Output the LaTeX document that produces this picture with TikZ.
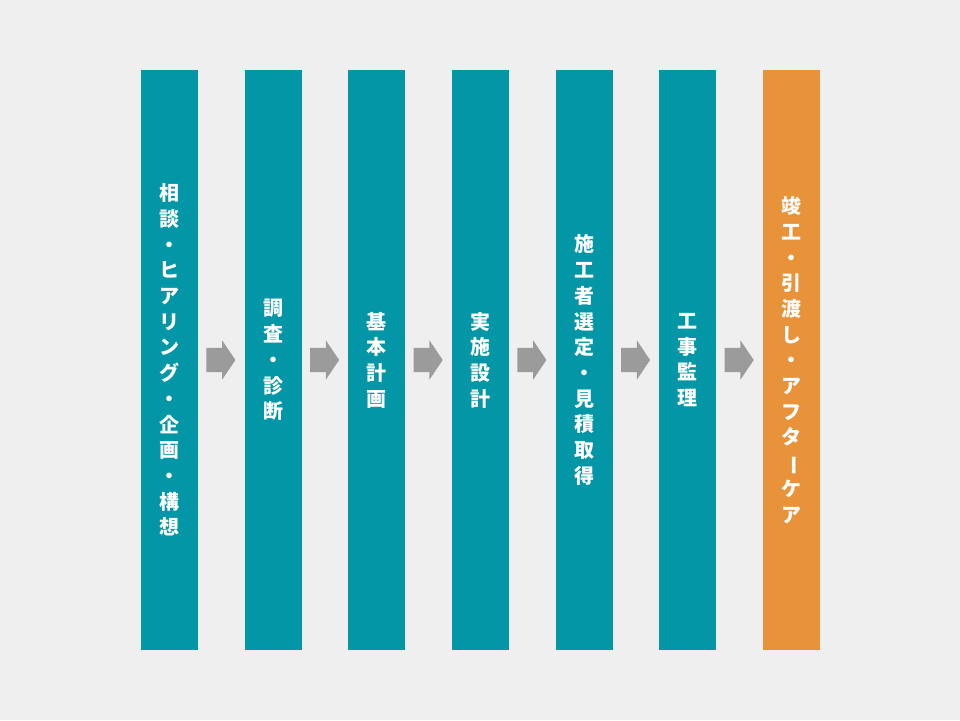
\documentclass[tikz,border=0pt]{standalone}
\usepackage{fontspec}
\newfontfamily\jpfont{Noto Sans CJK JP}
\usetikzlibrary{shapes.arrows,calc}

\definecolor{bgcol}{HTML}{EFEFEF}
\definecolor{stageteal}{HTML}{0396A6}
\definecolor{stageorange}{HTML}{E8923A}
\definecolor{arrowgray}{HTML}{9B9B9B}
\newcommand{\choon}{\rotatebox[origin=c]{-90}{ー}}

\begin{document}
\begin{tikzpicture}[x=1pt,y=-1pt,
    stage/.style={fill=stageteal, minimum width=57pt, minimum height=580pt, inner sep=0pt,
      text=white, align=center, font=\jpfont\bfseries\fontsize{20}{25.7}\selectfont},
    flow/.style={single arrow, fill=arrowgray, inner xsep=0pt, inner ysep=12pt,
      minimum height=29pt, single arrow head extend=7.5pt,
      single arrow tip angle=112, single arrow head indent=0pt}]
    \fill[bgcol] (0,0) rectangle (960,720);

    \node[stage] (s1) at (169.5,360) {相\\談\\・\\ヒ\\ア\\リ\\ン\\グ\\・\\企\\画\\・\\構\\想};
    \node[stage] (s2) at (273.2,360) {調\\査\\・\\診\\断};
    \node[stage] (s3) at (376.8,360) {基\\本\\計\\画};
    \node[stage] (s4) at (480.5,360) {実\\施\\設\\計};
    \node[stage] (s5) at (584.2,360) {施\\工\\者\\選\\定\\・\\見\\積\\取\\得};
    \node[stage] (s6) at (687.8,360) {工\\事\\監\\理};
    \node[stage, fill=stageorange] (s7) at (791.5,360) {竣\\工\\・\\引\\渡\\し\\・\\ア\\フ\\タ\\\choon\\ケ\\ア};

    % arrows between the stages
    \foreach \a/\b in {s1/s2,s2/s3,s3/s4,s4/s5,s5/s6,s6/s7}
        \node[flow, anchor=tail] at ($(\a.east)+(8,0)$) {};
\end{tikzpicture}
\end{document}
